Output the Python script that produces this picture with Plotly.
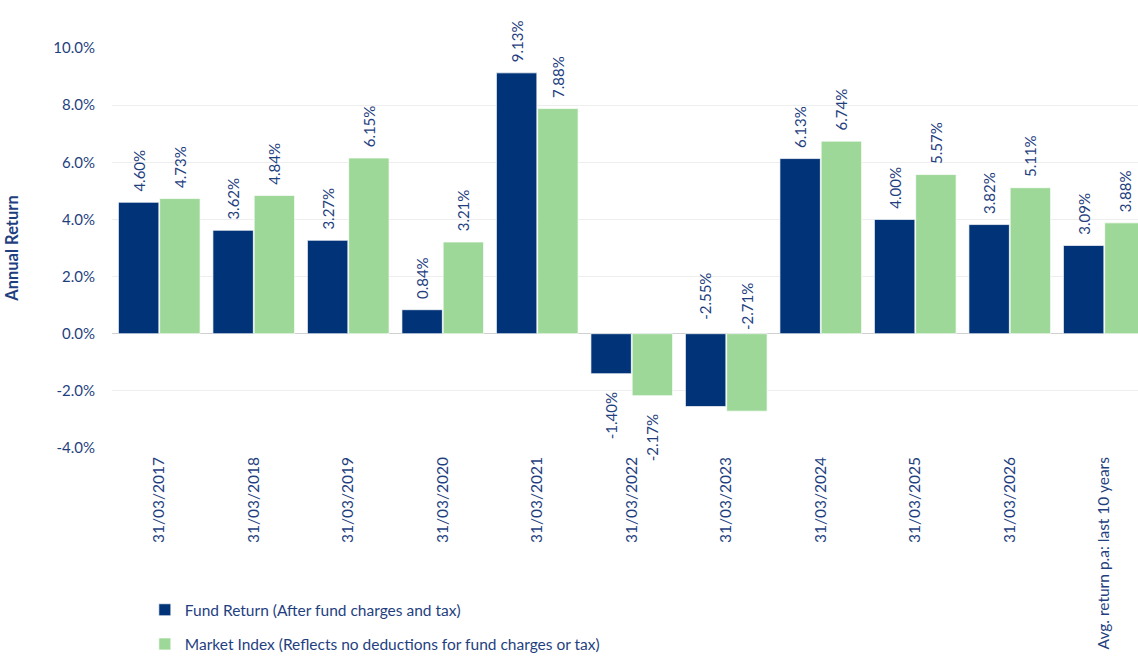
import plotly.graph_objects as go

categories = ["31/03/2017", "31/03/2018", "31/03/2019", "31/03/2020", "31/03/2021",
              "31/03/2022", "31/03/2023", "31/03/2024", "31/03/2025", "31/03/2026",
              "Avg. return p.a: last 10 years"]
fund_return = [4.60, 3.62, 3.27, 0.84, 9.13, -1.40, -2.55, 6.13, 4.00, 3.82, 3.09]
market_index = [4.73, 4.84, 6.15, 3.21, 7.88, -2.17, -2.71, 6.74, 5.57, 5.11, 3.88]
y_ticks = [-4, -2, 0, 2, 4, 6, 8, 10]
y_tick_labels = [f"{v:.1f}%" for v in y_ticks]
# categories whose labels are drawn above the zero line (as in the reference)
labels_at_base = ["31/03/2023"]

NAVY = "#003377"
GREEN = "#9DD898"
TEXT = "#1F3F7F"
FONT = "Lato"
NB = "\u00a0"


def labels(vals):
    out = []
    for c, v in zip(categories, vals):
        if c in labels_at_base:
            out.append("")
        elif v >= 0:
            out.append(NB + NB + f"{v:.2f}%")
        else:
            out.append(f"{v:.2f}%" + NB * 4)
    return out


fig = go.Figure()
series = [
    ("Fund Return (After fund charges and tax)", fund_return, NAVY, "a", -20.6, 12),
    ("Market Index (Reflects no deductions for fund charges or tax)", market_index, GREEN, "b", 20.6, 2),
]
for name, vals, color, grp, xs, ys in series:
    fig.add_trace(go.Bar(
        x=categories, y=vals, name=name,
        marker=dict(color=color, line=dict(color="rgba(255,255,255,0.7)", width=1)),
        text=labels(vals), textposition="outside", textangle=-90,
        constraintext="none", cliponaxis=False,
        textfont=dict(family=FONT, size=15, color=TEXT),
        legendgroup=grp,
    ))
    for c, v in zip(categories, vals):
        if c in labels_at_base:
            fig.add_annotation(x=c, y=0, text=f"{v:.2f}%", showarrow=False,
                               textangle=-90, xshift=xs, yshift=ys,
                               yanchor="bottom", xanchor="center",
                               font=dict(family=FONT, size=15, color=TEXT))

fig.update_layout(
    width=1138, height=656,
    margin=dict(l=112, r=0, t=48, b=208, autoexpand=False),
    paper_bgcolor="white", plot_bgcolor="white",
    barmode="group", bargap=0.127, bargroupgap=0.02,
    font=dict(family=FONT, color=TEXT, size=15),
    showlegend=True,
    legend=dict(orientation="v", x=0.032, xanchor="left", y=-0.363, yanchor="top",
                font=dict(family=FONT, size=15.5, color=TEXT),
                tracegroupgap=11, itemwidth=30, bgcolor="rgba(0,0,0,0)"),
    xaxis=dict(tickangle=-90, tickfont=dict(family=FONT, size=15.5, color=TEXT),
               showgrid=False, showline=False, ticks="", automargin=False,
               ticklabelstandoff=5, range=[-0.5, 10.357]),
    yaxis=dict(range=[-4, 10], tickvals=y_ticks, ticktext=y_tick_labels,
               tickfont=dict(family=FONT, size=15, color=TEXT),
               showgrid=True, gridcolor="#EEEEEE", gridwidth=1,
               zeroline=True, zerolinecolor="#D0D0D0", zerolinewidth=1,
               automargin=False,
               title=dict(text="<b>Annual Return</b>", font=dict(family=FONT, size=16.5, color=TEXT),
                          standoff=30),
               ticklabelstandoff=16),
)

fig.write_html("out.html",
               config={"displayModeBar": False},
               post_script="document.body.style.margin='0';document.body.style.overflow='hidden';")
